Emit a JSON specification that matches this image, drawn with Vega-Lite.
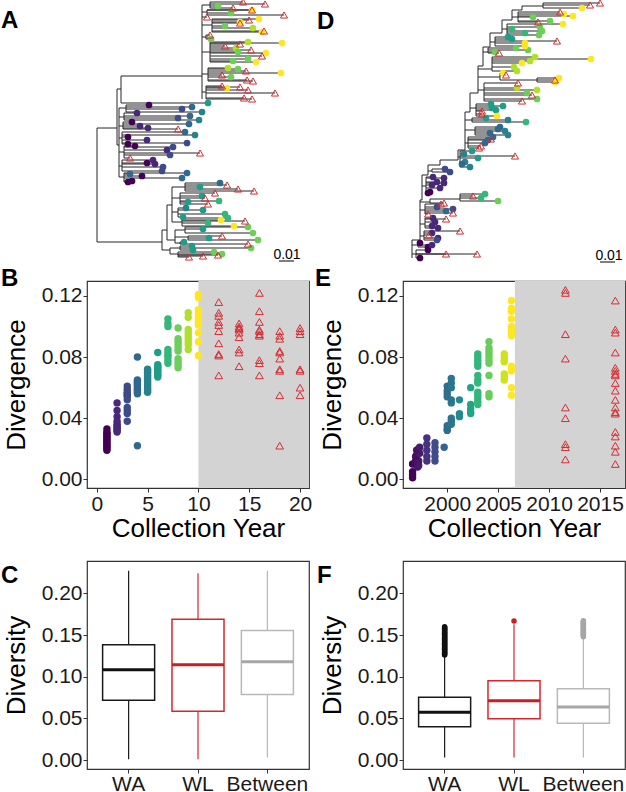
{
"$schema":"https://vega.github.io/schema/vega-lite/v6.json",
"autosize":{"type":"none"},
"padding":{"left":87,"top":0,"right":539,"bottom":792},
"bounds":"flush",
"columns":2,
"spacing":{"row":73,"column":94},
"resolve":{"scale":{"x":"independent","y":"independent","color":"independent","stroke":"independent"}},
"config":{
"font":"Liberation Sans",
"view":{"stroke":"#333333","strokeWidth":1.2},
"axis":{"grid":false,"domain":false,"tickColor":"#333333","tickSize":4,"labelFontSize":21,"labelColor":"#1a1a1a","labelPadding":1,"titleFontSize":26,"titleFontWeight":"normal","titleColor":"#000000","labelFlush":false,"labelOverlap":false,"labelBound":false},
"axisX":{"titlePadding":1},
"axisY":{"titlePadding":12},
"title":{"anchor":"start","frame":"group","fontSize":24,"fontWeight":"bold","baseline":"alphabetic","dx":-86,"color":"#000000"}
},
"datasets":{
"treeA_seg":[
{"x":0,"x2":0,"y":128,"y2":242},{"x":0,"x2":20,"y":128,"y2":128},{"x":0,"x2":65,"y":242,"y2":242},{"x":20,"x2":20,"y":89,"y2":145},{"x":20,"x2":24,"y":89,"y2":89},{"x":24,"x2":24,"y":76,"y2":103},{"x":24,"x2":105,"y":76,"y2":76},{"x":20,"x2":22,"y":145,"y2":145},{"x":22,"x2":22,"y":108,"y2":177},{"x":105,"x2":105,"y":5,"y2":99},
{"x":105,"x2":113,"y":5,"y2":5},{"x":113,"x2":113,"y":2,"y2":8},
{"x":105,"x2":110,"y":12,"y2":12},{"x":110,"x2":110,"y":10,"y2":15},
{"x":105,"x2":115,"y":25,"y2":25},{"x":115,"x2":115,"y":19,"y2":32},
{"x":105,"x2":109,"y":37,"y2":37},{"x":109,"x2":109,"y":35,"y2":39},
{"x":105,"x2":113,"y":52,"y2":52},{"x":113,"x2":113,"y":42,"y2":62},
{"x":105,"x2":111,"y":74,"y2":74},{"x":111,"x2":111,"y":68,"y2":81},
{"x":105,"x2":109,"y":92,"y2":92},{"x":109,"x2":109,"y":86,"y2":99},
{"x":22,"x2":29,"y":108,"y2":108},{"x":29,"x2":29,"y":105,"y2":112},
{"x":22,"x2":27,"y":117,"y2":117},{"x":27,"x2":27,"y":113,"y2":120},
{"x":22,"x2":26,"y":126,"y2":126},{"x":26,"x2":26,"y":122,"y2":129},
{"x":22,"x2":25,"y":138,"y2":138},{"x":25,"x2":25,"y":132,"y2":144},
{"x":22,"x2":27,"y":152,"y2":152},{"x":27,"x2":27,"y":146,"y2":158},
{"x":22,"x2":25,"y":166,"y2":166},{"x":25,"x2":25,"y":160,"y2":171},
{"x":22,"x2":27,"y":177,"y2":177},{"x":27,"x2":27,"y":173,"y2":182},
{"x":65,"x2":65,"y":230,"y2":250},{"x":65,"x2":70,"y":230,"y2":230},{"x":70,"x2":70,"y":205,"y2":240},{"x":65,"x2":73,"y":250,"y2":250},{"x":73,"x2":73,"y":248,"y2":254},{"x":70,"x2":75,"y":205,"y2":205},{"x":75,"x2":75,"y":187,"y2":222},{"x":70,"x2":78,"y":240,"y2":240},{"x":78,"x2":78,"y":230,"y2":243},
{"x":75,"x2":88,"y":187,"y2":187},{"x":88,"x2":88,"y":183,"y2":191},
{"x":75,"x2":83,"y":198,"y2":198},{"x":83,"x2":83,"y":193,"y2":204},
{"x":75,"x2":81,"y":212,"y2":212},{"x":81,"x2":81,"y":208,"y2":217},
{"x":75,"x2":85,"y":222,"y2":222},{"x":85,"x2":85,"y":218,"y2":226},
{"x":78,"x2":88,"y":230,"y2":230},{"x":88,"x2":88,"y":227,"y2":233},
{"x":78,"x2":91,"y":237,"y2":237},{"x":91,"x2":91,"y":236,"y2":240},
{"x":78,"x2":83,"y":243,"y2":243},{"x":83,"x2":83,"y":242,"y2":244},
{"x":73,"x2":83,"y":248,"y2":248},{"x":83,"x2":83,"y":246,"y2":250},
{"x":73,"x2":81,"y":254,"y2":254},{"x":81,"x2":81,"y":252,"y2":257}
],
"treeA_tip":[
{"x":146,"p":113,"y":2,"c":0},{"x":168,"p":113,"y":4,"c":0},{"x":121,"p":113,"y":6,"c":8},{"x":136,"p":113,"y":8,"c":0},
{"x":155,"p":110,"y":10,"c":10},{"x":155,"p":110,"y":10,"c":0},{"x":134,"p":110,"y":13,"c":8},{"x":187,"p":110,"y":15,"c":0},
{"x":110,"p":105,"y":17,"c":0},
{"x":162,"p":115,"y":19,"c":10},{"x":152,"p":115,"y":20,"c":0},{"x":143,"p":115,"y":22,"c":10},{"x":143,"p":115,"y":23,"c":0},{"x":128,"p":115,"y":26,"c":8},{"x":156,"p":115,"y":28,"c":9},{"x":167,"p":115,"y":31,"c":0},{"x":165,"p":115,"y":32,"c":10},
{"x":113,"p":109,"y":35,"c":0},{"x":114,"p":109,"y":39,"c":8},
{"x":185,"p":113,"y":43,"c":10},{"x":151,"p":113,"y":42,"c":9},{"x":143,"p":113,"y":44,"c":0},{"x":128,"p":113,"y":46,"c":0},{"x":139,"p":113,"y":48,"c":9},{"x":154,"p":113,"y":50,"c":0},{"x":141,"p":113,"y":52,"c":8},{"x":169,"p":113,"y":53,"c":10},{"x":165,"p":113,"y":56,"c":0},{"x":151,"p":113,"y":59,"c":8},{"x":136,"p":113,"y":61,"c":8},{"x":159,"p":113,"y":62,"c":10},
{"x":131,"p":111,"y":68,"c":9},{"x":141,"p":111,"y":69,"c":8},{"x":149,"p":111,"y":71,"c":0},{"x":184,"p":111,"y":73,"c":10},{"x":125,"p":111,"y":75,"c":0},{"x":134,"p":111,"y":77,"c":8},{"x":150,"p":111,"y":80,"c":0},{"x":156,"p":111,"y":81,"c":0},
{"x":125,"p":109,"y":86,"c":0},{"x":130,"p":109,"y":88,"c":10},{"x":143,"p":109,"y":87,"c":0},{"x":151,"p":109,"y":90,"c":0},{"x":178,"p":109,"y":93,"c":0},{"x":147,"p":109,"y":98,"c":0},{"x":155,"p":109,"y":99,"c":0},
{"x":111,"p":24,"y":103,"c":6},
{"x":52,"p":29,"y":105,"c":1},{"x":95,"p":29,"y":107,"c":4},{"x":85,"p":29,"y":109,"c":3},{"x":105,"p":29,"y":112,"c":5},
{"x":40,"p":27,"y":113,"c":2},{"x":93,"p":27,"y":116,"c":4},{"x":81,"p":27,"y":118,"c":3},{"x":102,"p":27,"y":120,"c":5},
{"x":35,"p":26,"y":122,"c":1},{"x":92,"p":26,"y":124,"c":4},{"x":43,"p":26,"y":126,"c":2},{"x":51,"p":26,"y":128,"c":2},{"x":81,"p":26,"y":129,"c":0},
{"x":88,"p":25,"y":132,"c":4},{"x":98,"p":25,"y":135,"c":5},{"x":31,"p":25,"y":137,"c":1},{"x":50,"p":25,"y":140,"c":2},{"x":90,"p":25,"y":143,"c":3},{"x":31,"p":25,"y":144,"c":1},
{"x":38,"p":27,"y":146,"c":1},{"x":76,"p":27,"y":147,"c":3},{"x":70,"p":27,"y":150,"c":2},{"x":103,"p":27,"y":153,"c":0},{"x":73,"p":27,"y":155,"c":3},{"x":33,"p":27,"y":158,"c":0},
{"x":56,"p":25,"y":160,"c":2},{"x":50,"p":25,"y":163,"c":1},{"x":58,"p":25,"y":164,"c":2},{"x":66,"p":25,"y":167,"c":3},{"x":65,"p":25,"y":171,"c":3},
{"x":90,"p":27,"y":173,"c":4},{"x":33,"p":27,"y":174,"c":4},{"x":45,"p":27,"y":176,"c":1},{"x":85,"p":27,"y":178,"c":4},{"x":35,"p":27,"y":181,"c":1},{"x":31,"p":27,"y":182,"c":1},
{"x":123,"p":88,"y":183,"c":4},{"x":130,"p":88,"y":185,"c":0},{"x":103,"p":88,"y":187,"c":6},{"x":141,"p":88,"y":189,"c":0},{"x":157,"p":88,"y":191,"c":0},
{"x":118,"p":83,"y":193,"c":0},{"x":105,"p":83,"y":196,"c":6},{"x":108,"p":83,"y":198,"c":0},{"x":122,"p":83,"y":201,"c":7},{"x":91,"p":83,"y":202,"c":6},{"x":111,"p":83,"y":204,"c":0},
{"x":89,"p":81,"y":208,"c":5},{"x":106,"p":81,"y":210,"c":6},{"x":128,"p":81,"y":214,"c":7},{"x":86,"p":81,"y":217,"c":6},
{"x":131,"p":85,"y":218,"c":7},{"x":124,"p":85,"y":220,"c":10},{"x":148,"p":85,"y":221,"c":0},{"x":111,"p":85,"y":223,"c":7},{"x":137,"p":85,"y":226,"c":10},
{"x":151,"p":88,"y":227,"c":8},{"x":106,"p":88,"y":229,"c":6},{"x":156,"p":88,"y":233,"c":8},
{"x":125,"p":91,"y":236,"c":0},{"x":112,"p":91,"y":238,"c":6},{"x":161,"p":91,"y":240,"c":8},
{"x":87,"p":83,"y":242,"c":6},{"x":151,"p":83,"y":244,"c":0},
{"x":95,"p":83,"y":246,"c":6},{"x":154,"p":83,"y":248,"c":8},{"x":96,"p":83,"y":250,"c":6},
{"x":117,"p":81,"y":252,"c":8},{"x":125,"p":81,"y":254,"c":8},{"x":121,"p":81,"y":255,"c":0},{"x":106,"p":81,"y":256,"c":0},{"x":92,"p":81,"y":257,"c":0}
],
"treeD_seg":[
{"x":0,"x2":0,"y":240,"y2":258},{"x":8,"x2":8,"y":200,"y2":240},{"x":10,"x2":10,"y":175,"y2":200},{"x":16,"x2":16,"y":165,"y2":175},{"x":28,"x2":28,"y":160,"y2":165},{"x":46,"x2":46,"y":150,"y2":160},{"x":53,"x2":53,"y":112,"y2":150},{"x":58,"x2":58,"y":93,"y2":112},{"x":66,"x2":66,"y":66,"y2":93},{"x":71,"x2":71,"y":47,"y2":66},{"x":78,"x2":78,"y":33,"y2":47},{"x":90,"x2":90,"y":20,"y2":33},{"x":100,"x2":100,"y":10,"y2":20},{"x":110,"x2":110,"y":6,"y2":10},{"x":131,"x2":131,"y":3,"y2":8},
{"x":0,"x2":8,"y":240,"y2":240},{"x":8,"x2":10,"y":200,"y2":200},{"x":10,"x2":16,"y":175,"y2":175},{"x":16,"x2":28,"y":165,"y2":165},{"x":28,"x2":46,"y":160,"y2":160},{"x":46,"x2":53,"y":150,"y2":150},{"x":53,"x2":58,"y":112,"y2":112},{"x":58,"x2":66,"y":93,"y2":93},{"x":66,"x2":71,"y":66,"y2":66},{"x":71,"x2":78,"y":47,"y2":47},{"x":78,"x2":90,"y":33,"y2":33},{"x":90,"x2":100,"y":20,"y2":20},{"x":100,"x2":110,"y":10,"y2":10},{"x":110,"x2":131,"y":6,"y2":6},
{"x":0,"x2":4,"y":254,"y2":254},{"x":4,"x2":4,"y":250,"y2":258},
{"x":0,"x2":6,"y":245,"y2":245},{"x":6,"x2":6,"y":243,"y2":247},
{"x":8,"x2":12,"y":236,"y2":236},{"x":12,"x2":12,"y":231,"y2":240},
{"x":8,"x2":13,"y":224,"y2":224},{"x":13,"x2":13,"y":218,"y2":228},
{"x":8,"x2":13,"y":210,"y2":210},{"x":13,"x2":13,"y":204,"y2":214},
{"x":8,"x2":18,"y":202,"y2":202},{"x":18,"x2":18,"y":199,"y2":203},{"x":18,"x2":48,"y":199,"y2":199},{"x":48,"x2":48,"y":194,"y2":201},
{"x":10,"x2":14,"y":186,"y2":186},{"x":14,"x2":14,"y":177,"y2":193},
{"x":16,"x2":20,"y":171,"y2":171},{"x":20,"x2":20,"y":169,"y2":172},
{"x":46,"x2":48,"y":157,"y2":157},{"x":48,"x2":48,"y":151,"y2":167},
{"x":53,"x2":56,"y":143,"y2":143},{"x":56,"x2":56,"y":137,"y2":148},
{"x":53,"x2":63,"y":130,"y2":130},{"x":63,"x2":63,"y":127,"y2":135},
{"x":53,"x2":60,"y":120,"y2":120},{"x":60,"x2":60,"y":118,"y2":122},
{"x":58,"x2":64,"y":108,"y2":108},{"x":64,"x2":64,"y":104,"y2":116},
{"x":66,"x2":72,"y":90,"y2":90},{"x":72,"x2":72,"y":83,"y2":101},
{"x":66,"x2":88,"y":77,"y2":77},{"x":88,"x2":88,"y":73,"y2":80},{"x":88,"x2":125,"y":80,"y2":80},{"x":125,"x2":125,"y":78,"y2":82},
{"x":66,"x2":80,"y":69,"y2":69},{"x":80,"x2":80,"y":57,"y2":71},
{"x":71,"x2":76,"y":52,"y2":52},{"x":76,"x2":76,"y":48,"y2":53},
{"x":78,"x2":83,"y":42,"y2":42},{"x":83,"x2":83,"y":37,"y2":46},
{"x":90,"x2":95,"y":29,"y2":29},{"x":95,"x2":95,"y":24,"y2":35},
{"x":100,"x2":106,"y":17,"y2":17},{"x":106,"x2":106,"y":12,"y2":22}
],
"treeD_tip":[
{"x":8,"p":4,"y":258,"c":1},{"x":34,"p":4,"y":254,"c":0},{"x":65,"p":4,"y":254,"c":0},{"x":16,"p":4,"y":250,"c":1},
{"x":8,"p":6,"y":243,"c":1},{"x":16,"p":6,"y":247,"c":1},{"x":20,"p":6,"y":245,"c":2},
{"x":26,"p":12,"y":238,"c":2},{"x":25,"p":12,"y":240,"c":3},{"x":17,"p":12,"y":235,"c":0},{"x":20,"p":12,"y":233,"c":2},{"x":48,"p":12,"y":231,"c":0},
{"x":21,"p":13,"y":218,"c":2},{"x":34,"p":13,"y":219,"c":0},{"x":23,"p":13,"y":222,"c":2},{"x":20,"p":13,"y":226,"c":2},{"x":26,"p":13,"y":228,"c":2},
{"x":29,"p":13,"y":204,"c":0},{"x":25,"p":13,"y":207,"c":3},{"x":41,"p":13,"y":209,"c":3},{"x":34,"p":13,"y":211,"c":4},{"x":41,"p":13,"y":213,"c":0},{"x":16,"p":13,"y":214,"c":0},
{"x":32,"p":18,"y":203,"c":0},{"x":61,"p":48,"y":196,"c":0},{"x":73,"p":48,"y":194,"c":7},{"x":69,"p":48,"y":198,"c":7},{"x":86,"p":48,"y":201,"c":8},
{"x":21,"p":14,"y":177,"c":2},{"x":32,"p":14,"y":178,"c":2},{"x":25,"p":14,"y":182,"c":2},{"x":32,"p":14,"y":183,"c":2},{"x":20,"p":14,"y":185,"c":2},{"x":28,"p":14,"y":188,"c":2},{"x":18,"p":14,"y":192,"c":1},{"x":16,"p":14,"y":193,"c":1},
{"x":33,"p":20,"y":169,"c":3},{"x":38,"p":20,"y":172,"c":3},
{"x":60,"p":48,"y":151,"c":6},{"x":52,"p":48,"y":154,"c":5},{"x":66,"p":48,"y":158,"c":6},{"x":103,"p":48,"y":156,"c":0},{"x":53,"p":48,"y":162,"c":5},{"x":50,"p":48,"y":164,"c":4},{"x":58,"p":48,"y":167,"c":5},
{"x":81,"p":56,"y":137,"c":4},{"x":79,"p":56,"y":139,"c":0},{"x":76,"p":56,"y":140,"c":4},{"x":73,"p":56,"y":143,"c":4},{"x":69,"p":56,"y":146,"c":0},{"x":67,"p":56,"y":148,"c":0},
{"x":88,"p":63,"y":127,"c":4},{"x":86,"p":63,"y":129,"c":4},{"x":93,"p":63,"y":131,"c":5},{"x":78,"p":63,"y":133,"c":4},{"x":96,"p":63,"y":135,"c":5},
{"x":74,"p":60,"y":118,"c":6},{"x":96,"p":60,"y":120,"c":5},{"x":114,"p":60,"y":122,"c":7},
{"x":79,"p":64,"y":104,"c":6},{"x":91,"p":64,"y":106,"c":6},{"x":80,"p":64,"y":108,"c":6},{"x":84,"p":64,"y":110,"c":6},{"x":70,"p":64,"y":111,"c":0},{"x":70,"p":64,"y":114,"c":0},{"x":85,"p":64,"y":116,"c":10},
{"x":106,"p":72,"y":83,"c":0},{"x":105,"p":72,"y":88,"c":9},{"x":125,"p":72,"y":90,"c":9},{"x":115,"p":72,"y":93,"c":8},{"x":120,"p":72,"y":95,"c":0},{"x":125,"p":72,"y":99,"c":8},{"x":110,"p":72,"y":101,"c":0},
{"x":91,"p":88,"y":73,"c":10},{"x":94,"p":88,"y":75,"c":0},{"x":147,"p":125,"y":78,"c":10},{"x":143,"p":125,"y":80,"c":0},{"x":143,"p":125,"y":82,"c":10},
{"x":123,"p":80,"y":57,"c":9},{"x":179,"p":80,"y":59,"c":10},{"x":118,"p":80,"y":61,"c":9},{"x":110,"p":80,"y":63,"c":10},{"x":102,"p":80,"y":67,"c":9},{"x":105,"p":80,"y":71,"c":9},
{"x":104,"p":76,"y":48,"c":8},{"x":116,"p":76,"y":50,"c":8},{"x":83,"p":76,"y":52,"c":8},{"x":87,"p":76,"y":53,"c":0},
{"x":96,"p":83,"y":37,"c":6},{"x":100,"p":83,"y":39,"c":6},{"x":145,"p":83,"y":41,"c":0},{"x":113,"p":83,"y":43,"c":10},{"x":113,"p":83,"y":46,"c":10},
{"x":151,"p":95,"y":24,"c":10},{"x":128,"p":95,"y":27,"c":8},{"x":100,"p":95,"y":29,"c":7},{"x":130,"p":95,"y":31,"c":8},{"x":113,"p":95,"y":33,"c":7},{"x":127,"p":95,"y":35,"c":8},
{"x":148,"p":106,"y":12,"c":0},{"x":152,"p":106,"y":14,"c":10},{"x":161,"p":106,"y":16,"c":10},{"x":121,"p":106,"y":17,"c":8},{"x":138,"p":106,"y":21,"c":8},{"x":126,"p":106,"y":22,"c":0},
{"x":188,"p":131,"y":3,"c":0},{"x":178,"p":131,"y":5,"c":0},{"x":170,"p":131,"y":8,"c":10}
],
"B_pts":[
{"yr":1,"div":0.019},{"yr":1,"div":0.020},{"yr":1,"div":0.021},{"yr":1,"div":0.022},{"yr":1,"div":0.023},{"yr":1,"div":0.024},{"yr":1,"div":0.025},{"yr":1,"div":0.026},{"yr":1,"div":0.027},{"yr":1,"div":0.028},{"yr":1,"div":0.029},{"yr":1,"div":0.030},{"yr":1,"div":0.031},{"yr":1,"div":0.033},
{"yr":2,"div":0.050},{"yr":2,"div":0.045},{"yr":2,"div":0.041},{"yr":2,"div":0.038},{"yr":2,"div":0.036},{"yr":2,"div":0.035},{"yr":2,"div":0.034},{"yr":2,"div":0.033},{"yr":2,"div":0.032},{"yr":2,"div":0.031},
{"yr":3,"div":0.061},{"yr":3,"div":0.059},{"yr":3,"div":0.057},{"yr":3,"div":0.056},{"yr":3,"div":0.055},{"yr":3,"div":0.054},{"yr":3,"div":0.052},{"yr":3,"div":0.047},{"yr":3,"div":0.045},{"yr":3,"div":0.043},{"yr":3,"div":0.038},
{"yr":4,"div":0.080},{"yr":4,"div":0.065},{"yr":4,"div":0.064},{"yr":4,"div":0.063},{"yr":4,"div":0.062},{"yr":4,"div":0.061},{"yr":4,"div":0.060},{"yr":4,"div":0.059},{"yr":4,"div":0.058},{"yr":4,"div":0.057},{"yr":4,"div":0.056},{"yr":4,"div":0.022},
{"yr":5,"div":0.072},{"yr":5,"div":0.071},{"yr":5,"div":0.070},{"yr":5,"div":0.069},{"yr":5,"div":0.068},{"yr":5,"div":0.067},{"yr":5,"div":0.066},{"yr":5,"div":0.065},{"yr":5,"div":0.064},{"yr":5,"div":0.063},{"yr":5,"div":0.062},{"yr":5,"div":0.061},{"yr":5,"div":0.060},{"yr":5,"div":0.059},{"yr":5,"div":0.058},{"yr":5,"div":0.057},
{"yr":6,"div":0.083},{"yr":6,"div":0.075},{"yr":6,"div":0.074},{"yr":6,"div":0.073},{"yr":6,"div":0.072},{"yr":6,"div":0.071},{"yr":6,"div":0.070},{"yr":6,"div":0.069},{"yr":6,"div":0.068},{"yr":6,"div":0.067},
{"yr":7,"div":0.105},{"yr":7,"div":0.102},{"yr":7,"div":0.100},{"yr":7,"div":0.085},{"yr":7,"div":0.083},{"yr":7,"div":0.081},{"yr":7,"div":0.080},{"yr":7,"div":0.078},{"yr":7,"div":0.076},
{"yr":8,"div":0.099},{"yr":8,"div":0.092},{"yr":8,"div":0.090},{"yr":8,"div":0.088},{"yr":8,"div":0.086},{"yr":8,"div":0.084},{"yr":8,"div":0.079},{"yr":8,"div":0.077},{"yr":8,"div":0.075},{"yr":8,"div":0.073},
{"yr":9,"div":0.109},{"yr":9,"div":0.106},{"yr":9,"div":0.098},{"yr":9,"div":0.096},{"yr":9,"div":0.094},{"yr":9,"div":0.092},{"yr":9,"div":0.090},{"yr":9,"div":0.088},{"yr":9,"div":0.085},
{"yr":10,"div":0.121},{"yr":10,"div":0.119},{"yr":10,"div":0.111},{"yr":10,"div":0.109},{"yr":10,"div":0.107},{"yr":10,"div":0.105},{"yr":10,"div":0.103},{"yr":10,"div":0.101},{"yr":10,"div":0.096},{"yr":10,"div":0.090},{"yr":10,"div":0.081}
],
"B_wl":[
{"yr":12,"div":0.116},{"yr":12,"div":0.109},{"yr":12,"div":0.107},{"yr":12,"div":0.103},{"yr":12,"div":0.101},{"yr":12,"div":0.097},{"yr":12,"div":0.089},{"yr":12,"div":0.082},{"yr":12,"div":0.081},{"yr":12,"div":0.068},
{"yr":14,"div":0.102},{"yr":14,"div":0.100},{"yr":14,"div":0.099},{"yr":14,"div":0.098},{"yr":14,"div":0.096},{"yr":14,"div":0.093},{"yr":14,"div":0.085},{"yr":14,"div":0.083},{"yr":14,"div":0.074},
{"yr":16,"div":0.122},{"yr":16,"div":0.110},{"yr":16,"div":0.103},{"yr":16,"div":0.098},{"yr":16,"div":0.097},{"yr":16,"div":0.095},{"yr":16,"div":0.094},{"yr":16,"div":0.078},{"yr":16,"div":0.076},{"yr":16,"div":0.068},
{"yr":18,"div":0.097},{"yr":18,"div":0.094},{"yr":18,"div":0.092},{"yr":18,"div":0.084},{"yr":18,"div":0.083},{"yr":18,"div":0.079},{"yr":18,"div":0.072},{"yr":18,"div":0.071},{"yr":18,"div":0.055},{"yr":18,"div":0.022},
{"yr":20,"div":0.099},{"yr":20,"div":0.097},{"yr":20,"div":0.095},{"yr":20,"div":0.072},{"yr":20,"div":0.071},{"yr":20,"div":0.060},{"yr":20,"div":0.055}
],
"E_pts":[
{"yr":1996.6,"div":0.010},{"yr":1996.6,"div":0.005},{"yr":1996.6,"div":0.003},{"yr":1996.6,"div":0.001},
{"yr":1996.8,"div":0.010},{"yr":1996.9,"div":0.012},{"yr":1997.0,"div":0.014},{"yr":1997.0,"div":0.016},{"yr":1997.1,"div":0.018},{"yr":1997.2,"div":0.020},{"yr":1997.2,"div":0.012},{"yr":1997.1,"div":0.010},{"yr":1996.9,"div":0.015},{"yr":1997.3,"div":0.017},{"yr":1997.0,"div":0.019},{"yr":1997.3,"div":0.021},{"yr":1997.1,"div":0.008},{"yr":1997.2,"div":0.009},
{"yr":1998.0,"div":0.027},{"yr":1998.0,"div":0.023},{"yr":1998.0,"div":0.019},{"yr":1998.0,"div":0.015},{"yr":1998.0,"div":0.012},
{"yr":1998.8,"div":0.024},{"yr":1998.8,"div":0.021},{"yr":1998.8,"div":0.018},{"yr":1998.8,"div":0.015},{"yr":1998.8,"div":0.012},
{"yr":1999.7,"div":0.021},
{"yr":2000.0,"div":0.061},{"yr":2000.0,"div":0.058},{"yr":2000.0,"div":0.056},{"yr":2000.0,"div":0.054},{"yr":2000.0,"div":0.035},{"yr":2000.0,"div":0.033},{"yr":2000.0,"div":0.032},
{"yr":2000.4,"div":0.066},{"yr":2000.4,"div":0.063},{"yr":2000.4,"div":0.060},{"yr":2000.4,"div":0.052},{"yr":2000.4,"div":0.050},{"yr":2000.4,"div":0.040},{"yr":2000.4,"div":0.038},{"yr":2000.4,"div":0.036},
{"yr":2001.2,"div":0.052},{"yr":2001.2,"div":0.043},{"yr":2001.2,"div":0.041},
{"yr":2002.3,"div":0.060},{"yr":2002.3,"div":0.049},{"yr":2002.3,"div":0.046},{"yr":2002.3,"div":0.044},{"yr":2002.3,"div":0.043},
{"yr":2003.0,"div":0.082},{"yr":2003.0,"div":0.080},{"yr":2003.0,"div":0.078},{"yr":2003.0,"div":0.076},{"yr":2003.0,"div":0.074},{"yr":2003.0,"div":0.068},{"yr":2003.0,"div":0.065},{"yr":2003.0,"div":0.063},{"yr":2003.0,"div":0.057},{"yr":2003.0,"div":0.055},{"yr":2003.0,"div":0.053},{"yr":2003.0,"div":0.051},{"yr":2003.0,"div":0.049},
{"yr":2004.1,"div":0.090},{"yr":2004.1,"div":0.086},{"yr":2004.1,"div":0.084},{"yr":2004.1,"div":0.082},{"yr":2004.1,"div":0.080},{"yr":2004.1,"div":0.078},{"yr":2004.1,"div":0.076},{"yr":2004.1,"div":0.068},{"yr":2004.1,"div":0.056},{"yr":2004.1,"div":0.054},
{"yr":2005.6,"div":0.082},{"yr":2005.6,"div":0.080},{"yr":2005.6,"div":0.078},{"yr":2005.6,"div":0.077},{"yr":2005.6,"div":0.069},{"yr":2005.6,"div":0.067},{"yr":2005.6,"div":0.065},
{"yr":2006.3,"div":0.117},{"yr":2006.3,"div":0.112},{"yr":2006.3,"div":0.110},{"yr":2006.3,"div":0.105},{"yr":2006.3,"div":0.100},{"yr":2006.3,"div":0.098},{"yr":2006.3,"div":0.096},{"yr":2006.3,"div":0.094},{"yr":2006.3,"div":0.074},{"yr":2006.3,"div":0.072},{"yr":2006.3,"div":0.071},{"yr":2006.3,"div":0.060},{"yr":2006.3,"div":0.055}
],
"E_wl":[
{"yr":2011.6,"div":0.124},{"yr":2011.6,"div":0.122},{"yr":2011.6,"div":0.095},{"yr":2011.6,"div":0.079},{"yr":2011.6,"div":0.047},{"yr":2011.6,"div":0.040},{"yr":2011.6,"div":0.023},{"yr":2011.6,"div":0.021},{"yr":2011.6,"div":0.013},
{"yr":2016.5,"div":0.117},{"yr":2016.5,"div":0.098},{"yr":2016.5,"div":0.096},{"yr":2016.5,"div":0.083},{"yr":2016.5,"div":0.073},{"yr":2016.5,"div":0.071},{"yr":2016.5,"div":0.069},{"yr":2016.5,"div":0.068},{"yr":2016.5,"div":0.063},{"yr":2016.5,"div":0.058},{"yr":2016.5,"div":0.052},{"yr":2016.5,"div":0.047},{"yr":2016.5,"div":0.044},{"yr":2016.5,"div":0.043},{"yr":2016.5,"div":0.031},{"yr":2016.5,"div":0.028},{"yr":2016.5,"div":0.022},{"yr":2016.5,"div":0.018},{"yr":2016.5,"div":0.010}
],
"C_box":[
{"g":"WA","lo":0.001,"q1":0.0716,"med":0.1083,"q3":0.1383,"hi":0.227},
{"g":"WL","lo":0.001,"q1":0.0584,"med":0.1144,"q3":0.1688,"hi":0.224},
{"g":"Between","lo":0.003,"q1":0.0785,"med":0.118,"q3":0.1555,"hi":0.227}
],
"F_box":[
{"g":"WA","lo":0.003,"q1":0.040,"med":0.0572,"q3":0.0752,"hi":0.1255},
{"g":"WL","lo":0.003,"q1":0.0496,"med":0.0712,"q3":0.0952,"hi":0.163},
{"g":"Between","lo":0.003,"q1":0.044,"med":0.0636,"q3":0.0856,"hi":0.1475}
],
"F_out":[
{"g":"WA","v":0.126},{"g":"WA","v":0.127},{"g":"WA","v":0.128},{"g":"WA","v":0.129},{"g":"WA","v":0.130},{"g":"WA","v":0.131},{"g":"WA","v":0.132},{"g":"WA","v":0.133},{"g":"WA","v":0.134},{"g":"WA","v":0.135},{"g":"WA","v":0.136},{"g":"WA","v":0.137},{"g":"WA","v":0.138},{"g":"WA","v":0.139},{"g":"WA","v":0.140},{"g":"WA","v":0.141},{"g":"WA","v":0.142},{"g":"WA","v":0.143},{"g":"WA","v":0.144},{"g":"WA","v":0.145},{"g":"WA","v":0.146},{"g":"WA","v":0.147},{"g":"WA","v":0.148},{"g":"WA","v":0.149},{"g":"WA","v":0.150},{"g":"WA","v":0.151},{"g":"WA","v":0.152},{"g":"WA","v":0.153},{"g":"WA","v":0.154},{"g":"WA","v":0.155},{"g":"WA","v":0.156},{"g":"WA","v":0.157},{"g":"WA","v":0.158},{"g":"WA","v":0.159},{"g":"WA","v":0.160},
{"g":"WL","v":0.1668},
{"g":"Between","v":0.148},{"g":"Between","v":0.149},{"g":"Between","v":0.150},{"g":"Between","v":0.151},{"g":"Between","v":0.152},{"g":"Between","v":0.153},{"g":"Between","v":0.154},{"g":"Between","v":0.155},{"g":"Between","v":0.156},{"g":"Between","v":0.157},{"g":"Between","v":0.158},{"g":"Between","v":0.159},{"g":"Between","v":0.160},{"g":"Between","v":0.161},{"g":"Between","v":0.162},{"g":"Between","v":0.163},{"g":"Between","v":0.164},{"g":"Between","v":0.165},{"g":"Between","v":0.166},{"g":"Between","v":0.167}
]
},
"concat":[
{
"width":222,"height":208,"view":{"stroke":null},
"title":{"text":"A","offset":0,"dy":55,"dx":-86,"fontSize":24,"fontWeight":"bold","baseline":"alphabetic","anchor":"start","frame":"group"},
"encoding":{"x":{"field":"x","type":"quantitative","scale":{"domain":[-10,212],"nice":false,"zero":false},"axis":null},"y":{"field":"y","type":"quantitative","scale":{"domain":[0,208],"reverse":true,"nice":false,"zero":false},"axis":null}},
"layer":[
{"data":{"name":"treeA_seg"},"mark":{"type":"rule","color":"#262626","strokeWidth":1},"encoding":{"x2":{"field":"x2"},"y2":{"field":"y2"}}},
{"data":{"name":"treeA_tip"},"mark":{"type":"rule","color":"#262626","strokeWidth":1},"encoding":{"x":{"field":"p","type":"quantitative"},"x2":{"field":"x"}}},
{"data":{"name":"treeA_tip"},"transform":[{"filter":"datum.c > 0"}],"mark":{"type":"circle","size":45,"opacity":1},"encoding":{"color":{"field":"c","type":"quantitative","scale":{"scheme":"viridis","domain":[1,10]},"legend":null}}},
{"data":{"name":"treeA_tip"},"transform":[{"filter":"datum.c == 0"}],"mark":{"type":"point","shape":"triangle-up","size":50,"filled":false,"color":"#d62d32","strokeWidth":1,"opacity":1}},
{"data":{"values":[{"x":182,"x2":197,"y":261}]},"mark":{"type":"rule","color":"#000000","strokeWidth":1},"encoding":{"x2":{"field":"x2"}}},
{"data":{"values":[{"x":190,"y":259,"lab":"0.01"}]},"mark":{"type":"text","fontSize":14,"baseline":"alphabetic","align":"center","color":"#000000"},"encoding":{"text":{"field":"lab"}}}
]
},
{
"width":222,"height":208,"view":{"stroke":null},
"title":{"text":"D","offset":0,"dy":55,"dx":-86,"fontSize":24,"fontWeight":"bold","baseline":"alphabetic","anchor":"start","frame":"group"},
"encoding":{"x":{"field":"x","type":"quantitative","scale":{"domain":[-9,213],"nice":false,"zero":false},"axis":null},"y":{"field":"y","type":"quantitative","scale":{"domain":[0,208],"reverse":true,"nice":false,"zero":false},"axis":null}},
"layer":[
{"data":{"name":"treeD_seg"},"mark":{"type":"rule","color":"#262626","strokeWidth":1},"encoding":{"x2":{"field":"x2"},"y2":{"field":"y2"}}},
{"data":{"name":"treeD_tip"},"mark":{"type":"rule","color":"#262626","strokeWidth":1},"encoding":{"x":{"field":"p","type":"quantitative"},"x2":{"field":"x"}}},
{"data":{"name":"treeD_tip"},"transform":[{"filter":"datum.c > 0"}],"mark":{"type":"circle","size":45,"opacity":1},"encoding":{"color":{"field":"c","type":"quantitative","scale":{"scheme":"viridis","domain":[1,10]},"legend":null}}},
{"data":{"name":"treeD_tip"},"transform":[{"filter":"datum.c == 0"}],"mark":{"type":"point","shape":"triangle-up","size":50,"filled":false,"color":"#d62d32","strokeWidth":1,"opacity":1}},
{"data":{"values":[{"x":188,"x2":203,"y":262}]},"mark":{"type":"rule","color":"#000000","strokeWidth":1},"encoding":{"x2":{"field":"x2"}}},
{"data":{"values":[{"x":197,"y":260,"lab":"0.01"}]},"mark":{"type":"text","fontSize":14,"baseline":"alphabetic","align":"center","color":"#000000"},"encoding":{"text":{"field":"lab"}}}
]
},
{
"width":222,"height":207,
"title":{"text":"B","offset":0,"dy":29,"dx":-86,"fontSize":24,"fontWeight":"bold","baseline":"alphabetic","anchor":"start","frame":"group"},
"encoding":{
"x":{"field":"yr","type":"quantitative","scale":{"domain":[-0.96,20.88],"nice":false,"zero":false},"axis":{"values":[0,5,10,15,20],"format":"d","title":"Collection Year"}},
"y":{"field":"div","type":"quantitative","scale":{"domain":[-0.0057,0.1298],"nice":false,"zero":false},"axis":{"values":[0,0.04,0.08,0.12],"format":".2f","title":"Divergence"}}},
"layer":[
{"data":{"values":[{"yr":10,"yr2":30,"div":-1,"div2":1}]},"mark":{"type":"rect","color":"#d3d3d3","clip":true},"encoding":{"x2":{"field":"yr2"},"y2":{"field":"div2"}}},
{"data":{"name":"B_pts"},"mark":{"type":"circle","size":55,"opacity":1},"encoding":{"color":{"field":"yr","type":"quantitative","scale":{"scheme":"viridis","domain":[1,10]},"legend":null}}},
{"data":{"name":"B_wl"},"mark":{"type":"point","shape":"triangle-up","size":60,"filled":false,"color":"#d62d32","strokeWidth":1,"opacity":1}}
]
},
{
"width":222,"height":207,
"title":{"text":"E","offset":0,"dy":29,"dx":-88,"fontSize":24,"fontWeight":"bold","baseline":"alphabetic","anchor":"start","frame":"group"},
"encoding":{
"x":{"field":"yr","type":"quantitative","scale":{"domain":[1995.66,2017.45],"nice":false,"zero":false},"axis":{"values":[2000,2005,2010,2015],"format":"d","title":"Collection Year"}},
"y":{"field":"div","type":"quantitative","scale":{"domain":[-0.0057,0.1298],"nice":false,"zero":false},"axis":{"values":[0,0.04,0.08,0.12],"format":".2f","title":"Divergence"}}},
"layer":[
{"data":{"values":[{"yr":2006.64,"yr2":2030,"div":-1,"div2":1}]},"mark":{"type":"rect","color":"#d3d3d3","clip":true},"encoding":{"x2":{"field":"yr2"},"y2":{"field":"div2"}}},
{"data":{"name":"E_pts"},"mark":{"type":"circle","size":55,"opacity":1},"encoding":{"color":{"field":"yr","type":"quantitative","scale":{"scheme":"viridis","domain":[1996.6,2006.3]},"legend":null}}},
{"data":{"name":"E_wl"},"mark":{"type":"point","shape":"triangle-up","size":60,"filled":false,"color":"#d62d32","strokeWidth":1,"opacity":1}}
]
},
{
"width":222,"height":208,
"title":{"text":"C","offset":0,"dy":46,"dx":-86,"fontSize":24,"fontWeight":"bold","baseline":"alphabetic","anchor":"start","frame":"group"},
"data":{"name":"C_box"},
"encoding":{"x":{"field":"g","type":"nominal","sort":["WA","WL","Between"],"scale":{"type":"band","domain":["WA","WL","Between"],"paddingInner":0.25,"paddingOuter":0.225},"axis":{"title":null,"labelAngle":0,"labelPadding":0}}},
"layer":[
{"mark":{"type":"rule","strokeWidth":1.2},"encoding":{"y":{"field":"lo","type":"quantitative","scale":{"domain":[-0.0108,0.2388],"nice":false,"zero":false},"axis":{"values":[0,0.05,0.1,0.15,0.2],"format":".2f","title":"Diversity"}},"y2":{"field":"hi"},"stroke":{"field":"g","type":"nominal","scale":{"domain":["WA","WL","Between"],"range":["#1a1a1a","#d7262b","#b8b8b8"]},"legend":null}}},
{"mark":{"type":"bar","fill":"white","strokeWidth":1.5},"encoding":{"y":{"field":"q1","type":"quantitative","scale":{"domain":[-0.0108,0.2388],"nice":false,"zero":false}},"y2":{"field":"q3"},"stroke":{"field":"g","type":"nominal","scale":{"domain":["WA","WL","Between"],"range":["#1a1a1a","#d7262b","#b8b8b8"]},"legend":null}}},
{"mark":{"type":"tick","thickness":3,"size":52,"opacity":1},"encoding":{"y":{"field":"med","type":"quantitative","scale":{"domain":[-0.0108,0.2388],"nice":false,"zero":false}},"color":{"field":"g","type":"nominal","scale":{"domain":["WA","WL","Between"],"range":["#111111","#c81e24","#a6a6a6"]},"legend":null}}}
]
},
{
"width":222,"height":208,
"title":{"text":"F","offset":0,"dy":46,"dx":-86,"fontSize":24,"fontWeight":"bold","baseline":"alphabetic","anchor":"start","frame":"group"},
"data":{"name":"F_box"},
"encoding":{"x":{"field":"g","type":"nominal","sort":["WA","WL","Between"],"scale":{"type":"band","domain":["WA","WL","Between"],"paddingInner":0.25,"paddingOuter":0.225},"axis":{"title":null,"labelAngle":0,"labelPadding":0}}},
"layer":[
{"mark":{"type":"rule","strokeWidth":1.2},"encoding":{"y":{"field":"lo","type":"quantitative","scale":{"domain":[-0.0108,0.2388],"nice":false,"zero":false},"axis":{"values":[0,0.05,0.1,0.15,0.2],"format":".2f","title":"Diversity"}},"y2":{"field":"hi"},"stroke":{"field":"g","type":"nominal","scale":{"domain":["WA","WL","Between"],"range":["#1a1a1a","#d7262b","#b8b8b8"]},"legend":null}}},
{"mark":{"type":"bar","fill":"white","strokeWidth":1.5},"encoding":{"y":{"field":"q1","type":"quantitative","scale":{"domain":[-0.0108,0.2388],"nice":false,"zero":false}},"y2":{"field":"q3"},"stroke":{"field":"g","type":"nominal","scale":{"domain":["WA","WL","Between"],"range":["#1a1a1a","#d7262b","#b8b8b8"]},"legend":null}}},
{"mark":{"type":"tick","thickness":3,"size":52,"opacity":1},"encoding":{"y":{"field":"med","type":"quantitative","scale":{"domain":[-0.0108,0.2388],"nice":false,"zero":false}},"color":{"field":"g","type":"nominal","scale":{"domain":["WA","WL","Between"],"range":["#111111","#c81e24","#a6a6a6"]},"legend":null}}},
{"data":{"name":"F_out"},"mark":{"type":"circle","size":30,"opacity":1},"encoding":{"y":{"field":"v","type":"quantitative","scale":{"domain":[-0.0108,0.2388],"nice":false,"zero":false}},"color":{"field":"g","type":"nominal","scale":{"domain":["WA","WL","Between"],"range":["#111111","#c81e24","#a6a6a6"]},"legend":null}}}
]
}
]
}
